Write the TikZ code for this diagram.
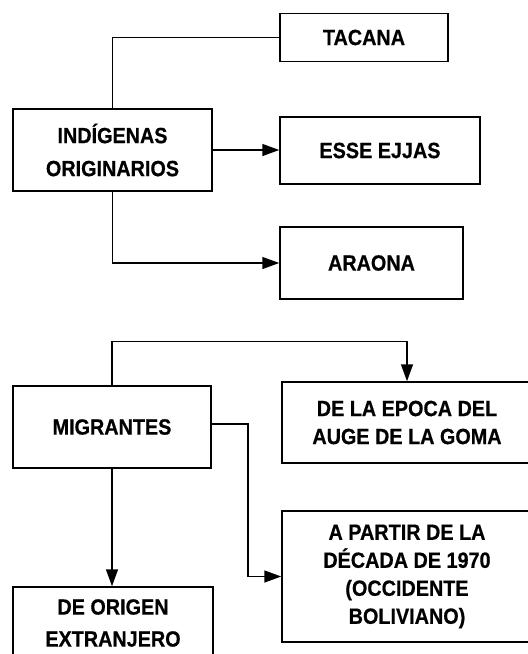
\documentclass[tikz,border=0pt]{standalone}
\usepackage{fontspec}
\setmainfont{Liberation Sans}[FakeStretch=0.9,BoldFeatures={FakeBold=0.6}]
\usetikzlibrary{arrows.meta,calc}
\begin{document}
\begin{tikzpicture}[x=1pt,y=-1pt,
  box/.style={draw,line width=1.5pt,inner sep=0pt,align=center,font=\bfseries\fontsize{22}{33}\selectfont},
  boxb/.style={box,font=\bfseries\fontsize{22}{28}\selectfont},
  boxc/.style={box,font=\bfseries\fontsize{22}{32}\selectfont},
  conn/.style={line width=1.5pt},
  arr/.style={conn,-{Triangle[length=17pt,width=12pt]}}]
\useasboundingbox (0,0) rectangle (528,654);
\clip (0,0) rectangle (528,654);
\node[box,minimum width=199pt,minimum height=82pt] (ind) at (112.5,150) {INDÍGENAS\\ORIGINARIOS};
\node[box,minimum width=168pt,minimum height=48pt] (tac) at (364,37.5) {TACANA};
\node[box,minimum width=200pt,minimum height=67pt] (esse) at (380,150.5) {ESSE EJJAS};
\node[box,minimum width=183pt,minimum height=72pt] (ara) at (371.5,263) {ARAONA};
\node[box,minimum width=198pt,minimum height=82pt] (mig) at (112,427) {MIGRANTES};
\node[boxb,minimum width=250pt,minimum height=81pt] (epo) at (407,422.5) {DE LA EPOCA DEL\\AUGE DE LA GOMA};
\node[boxb,minimum width=250pt,minimum height=131pt] (apa) at (407,576.5) {A PARTIR DE LA\\DÉCADA DE 1970\\(OCCIDENTE\\BOLIVIANO)};
\node[boxc,minimum width=200pt,minimum height=72pt] (ori) at (113,623) {DE ORIGEN\\EXTRANJERO};
\draw[conn] (ind.north) |- (tac.west);
\draw[arr] (ind.east) -- (ind.east -| esse.west);
\draw[arr] (ind.south) |- (ara.west);
\draw[arr] (mig.north) -- ++(0,-44) -| (epo.north);
\draw[arr] ($(mig.east)+(0,-3)$) -- ++(36,0) |- (apa.west);
\draw[arr] (mig.south) -- (mig.south |- ori.north);
\end{tikzpicture}
\end{document}
